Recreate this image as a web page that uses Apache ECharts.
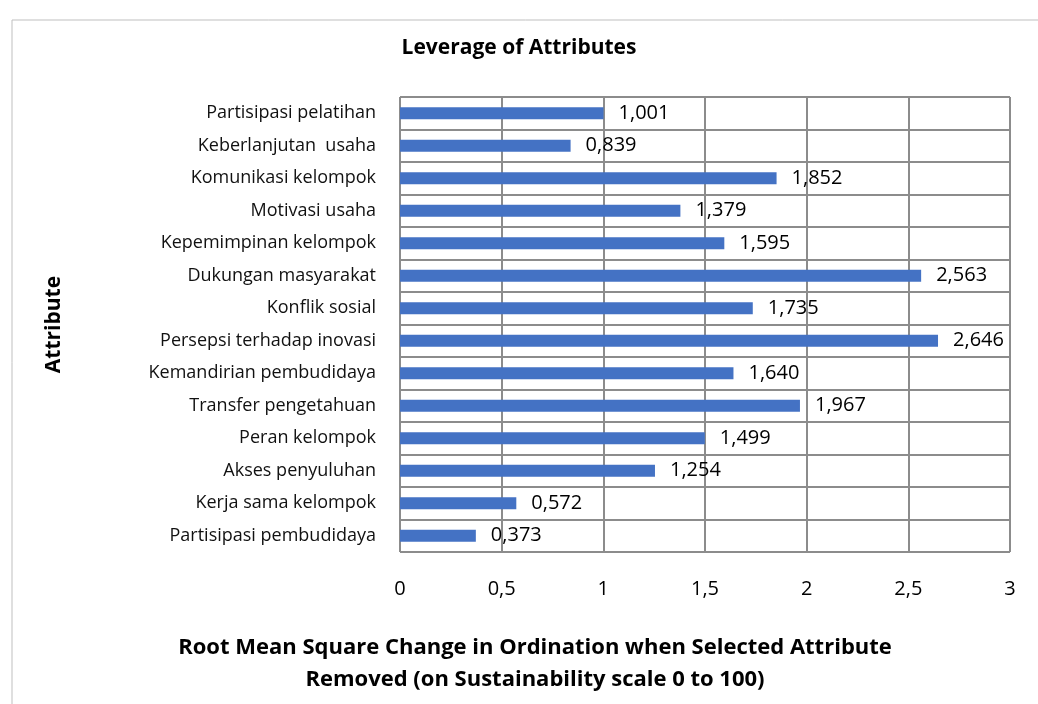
<!DOCTYPE html>
<html>
<head>
<meta charset="utf-8">
<script src="https://cdn.jsdelivr.net/npm/echarts@6/dist/echarts.min.js"></script>
<style>
  html, body { margin: 0; padding: 0; background: #fff; }
  #main { width: 1038px; height: 704px; }
</style>
</head>
<body>
<div id="main"></div>
<script>
// atribut, urut dari atas ke bawah
var attributes = [
  'Partisipasi pelatihan',
  'Keberlanjutan  usaha',
  'Komunikasi kelompok',
  'Motivasi usaha',
  'Kepemimpinan kelompok',
  'Dukungan masyarakat',
  'Konflik sosial',
  'Persepsi terhadap inovasi',
  'Kemandirian pembudidaya',
  'Transfer pengetahuan',
  'Peran kelompok',
  'Akses penyuluhan',
  'Kerja sama kelompok',
  'Partisipasi pembudidaya'
];
// nilai RMS (urutan sama dengan atribut)
var rmsValues = [1.001, 0.839, 1.852, 1.379, 1.595, 2.563, 1.735, 2.646, 1.640, 1.967, 1.499, 1.254, 0.572, 0.373];

var font = '"Open Sans", Lato, sans-serif';

function fmt(v) {
  return String(v).replace('.', ',');
}

var myChart = echarts.init(document.getElementById('main'));

var option = {
  backgroundColor: '#fff',
  animation: false,
  title: [{
    text: 'Leverage of Attributes',
    left: 'center',
    top: 33,
    textStyle: { fontFamily: font, fontSize: 21, fontWeight: 'bold', color: '#000' }
  }, {
    // judul sumbu x, posisinya tidak di tengah grid
    text: 'Root Mean Square Change in Ordination when Selected Attribute\nRemoved (on Sustainability scale 0 to 100)',
    left: 530,
    textAlign: 'center',
    top: 627,
    textStyle: { fontFamily: font, fontSize: 22, fontWeight: 'bold', color: '#000', lineHeight: 32 }
  }],
  graphic: [{
    type: 'rect',
    shape: { x: 12, y: 20, width: 1040, height: 700 },
    style: { fill: 'none', stroke: '#bfbfbf', lineWidth: 1 }
  }],
  grid: { left: 400, right: 28, top: 97, bottom: 152, outerBoundsMode: 'none' },
  xAxis: {
    type: 'value',
    min: 0,
    max: 3,
    interval: 0.5,
    axisLine: { show: false },
    axisTick: { show: false },
    axisLabel: {
      margin: 27,
      fontFamily: font, fontSize: 20, color: '#000',
      formatter: function (v) { return fmt(v); }
    },
    splitLine: { show: true, lineStyle: { color: '#8c8c8c', width: 2 } }
  },
  yAxis: {
    type: 'category',
    inverse: true,
    data: attributes,
    name: 'Attribute',
    nameLocation: 'middle',
    nameGap: 335,
    nameRotate: 90,
    nameTextStyle: { fontFamily: font, fontSize: 21, fontWeight: 'bold', color: '#000' },
    axisLine: { show: false },
    axisTick: { show: false },
    axisLabel: { margin: 24, fontFamily: font, fontSize: 18, color: '#111' },
    splitLine: { show: true, lineStyle: { color: '#8c8c8c', width: 2 } }
  },
  series: [{
    type: 'bar',
    data: rmsValues,
    barWidth: 12,
    itemStyle: { color: '#4472C4' },
    label: {
      show: true,
      position: 'right',
      distance: 15,
      fontFamily: font,
      fontSize: 20,
      color: '#000',
      formatter: function (p) { return p.value.toFixed(3).replace('.', ','); }
    }
  }]
};

myChart.setOption(option);
</script>
</body>
</html>
